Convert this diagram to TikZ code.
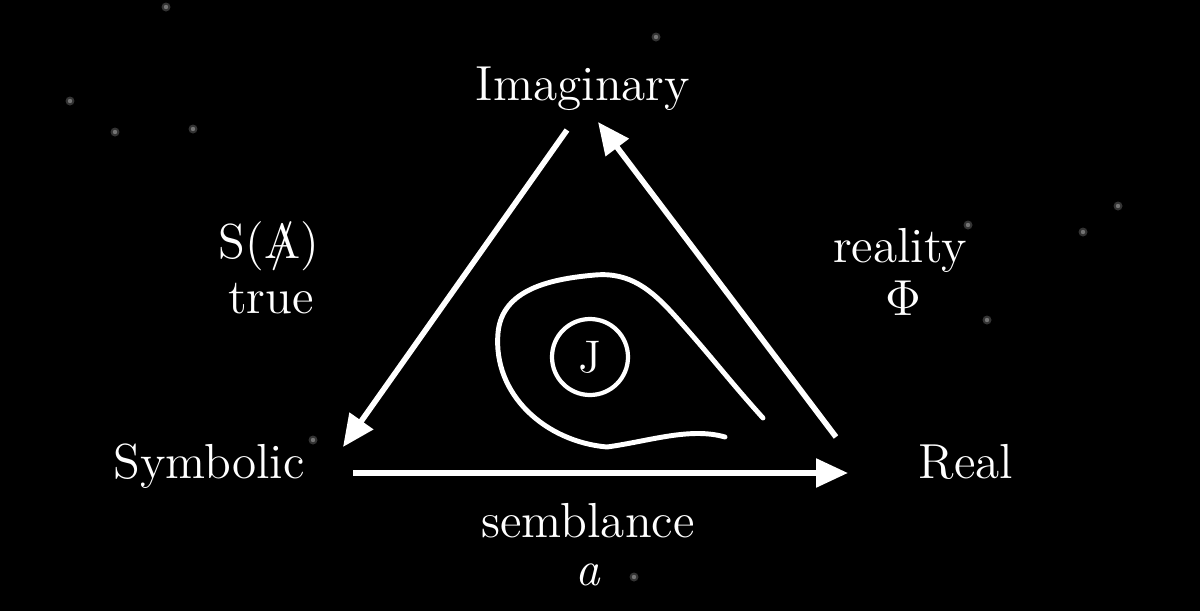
\documentclass[tikz,border=0pt]{standalone}
\usetikzlibrary{arrows.meta}
\usepackage{amsmath}

\tikzset{
  lbl/.style={text=white, anchor=base, inner sep=0pt, font=\fontsize{14}{16}\selectfont},
  rim/.style={white, line width=1.6pt, -{Triangle[length=3.2mm, width=2.8mm]}},
  loopline/.style={white, line width=1.4pt, line cap=round}
}

\begin{document}
\begin{tikzpicture}
\fill[black] (0,0) rectangle (12,6.11);
\foreach \x/\y in {1.66/6.04, 0.70/5.10, 1.15/4.79, 1.93/4.82, 11.18/4.05, 10.83/3.79, 9.87/2.91, 9.68/3.86, 6.56/5.74, 3.13/1.71, 6.34/0.34} {
 \fill[white!20!black] (\x,\y) circle (0.045);
 \fill[white!45!black] (\x,\y) circle (0.022);
}

\node[lbl] (imag) at (5.83,5.11) {Imaginary};
\node[lbl] (symb) at (2.09,1.33) {Symbolic};
\node[lbl] (real) at (9.66,1.33) {Real};
\node[lbl] (sa) at (2.69,3.53) {S(\ooalign{\hfil/\hfil\cr A})};
\node[lbl] (true) at (2.71,2.98) {true};
\node[lbl] (reality) at (9.00,3.49) {reality};
\node[lbl] (phi) at (9.03,2.96) {$\Phi$};
\node[lbl] (sembl) at (5.88,0.74) {semblance};
\node[lbl] (obj) at (5.88,0.26) {\textit{a}};

\coordinate (imag-l) at (5.67,4.81);
\coordinate (imag-r) at (5.98,4.89);
\coordinate (symb-t) at (3.43,1.64);
\coordinate (symb-r) at (3.53,1.38);
\coordinate (real-l) at (8.48,1.38);
\coordinate (real-t) at (8.36,1.74);

\draw[rim] (imag-l) -- (symb-t);
\draw[rim] (real-t) -- (imag-r);
\draw[rim] (symb-r) -- (real-l);

\draw[loopline] (7.63,1.93) to[out=132,in=-48] (6.75,2.95) to[out=132,in=5] (5.95,3.36)
  to[out=185,in=85] (4.98,2.78) to[out=-95,in=175] (6.07,1.64)
  .. controls (6.5,1.70) and (6.9,1.84) .. (7.25,1.74);
\node[draw=white, line width=1.2pt, circle, minimum size=0.76cm, inner sep=0pt, text=white, font=\fontsize{13}{15}\selectfont] (jouis) at (5.90,2.54) {J};
\end{tikzpicture}
\end{document}
